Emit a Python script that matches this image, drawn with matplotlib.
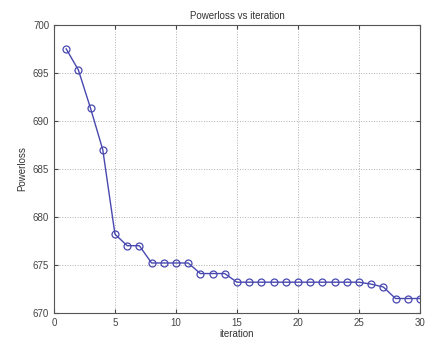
import matplotlib
matplotlib.use('Agg')
import matplotlib.pyplot as plt

iteration = list(range(1, 31))
powerloss = [697.5, 695.3, 691.3, 687.0, 678.2, 677.0, 677.0, 675.2, 675.2, 675.2,
             675.2, 674.1, 674.1, 674.1, 673.2, 673.2, 673.2, 673.2, 673.2, 673.2,
             673.2, 673.2, 673.2, 673.2, 673.2, 673.0, 672.7, 671.5, 671.5, 671.5]
x_ticks = [0, 5, 10, 15, 20, 25, 30]
y_ticks = [670, 675, 680, 685, 690, 695, 700]

plt.rcParams['font.family'] = ['Liberation Sans', 'DejaVu Sans']
fig = plt.figure(figsize=(4.25, 3.45), dpi=100)
ax = fig.add_axes([0.127, 0.093, 0.861, 0.835])
ax.plot(iteration, powerloss, '-o', color='#4848b0', lw=1.0, ms=5,
        mfc='none', mec='#4848b0', mew=0.9)
ax.set_xlim(0, 30)
ax.set_ylim(670, 700)
ax.set_xticks(x_ticks)
ax.set_yticks(y_ticks)
ax.grid(True, linestyle=':', color='#b0b0b0', lw=0.7)
ax.tick_params(direction='in', labelsize=7, top=True, right=True, length=3, colors='#444444')
for s in ax.spines.values():
    s.set_color('#555555')
    s.set_linewidth(0.8)
ax.set_title('Powerloss vs iteration', fontsize=7, color='#333333', pad=4)
ax.set_xlabel('iteration', fontsize=7, color='#333333', labelpad=1)
ax.set_ylabel('Powerloss', fontsize=7, color='#333333', labelpad=4)
fig.savefig('out.png', dpi=100)
